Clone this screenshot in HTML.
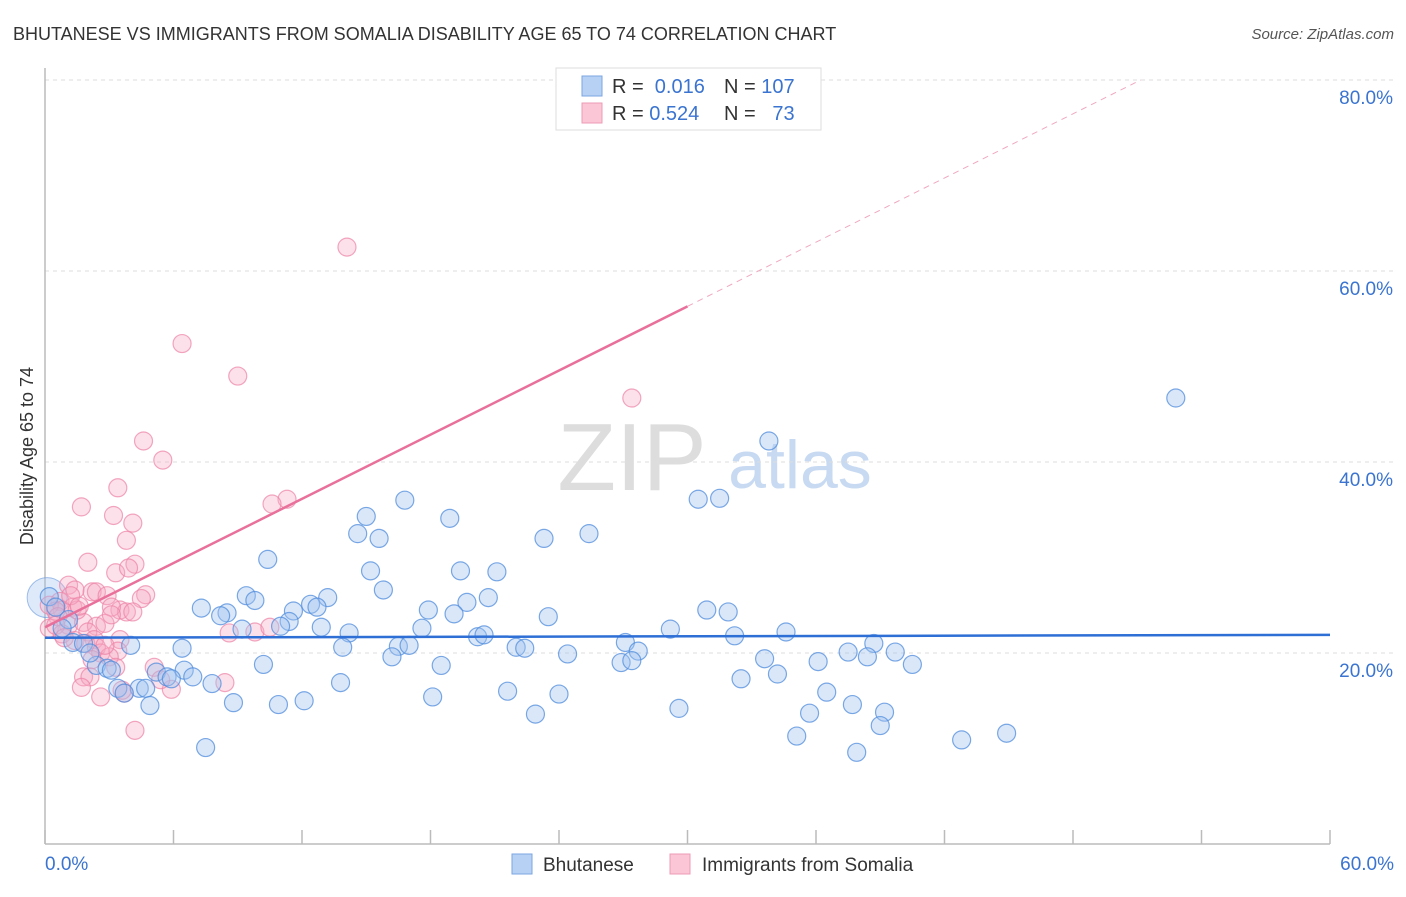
<!DOCTYPE html>
<html><head><meta charset="utf-8">
<style>
body{margin:0;background:#fff;font-family:"Liberation Sans",sans-serif;}
svg text{font-family:"Liberation Sans",sans-serif;}
</style></head>
<body>
<svg id="chart" width="1406" height="892" viewBox="0 0 1406 892" xmlns="http://www.w3.org/2000/svg">
<text x="13" y="40" font-size="18" fill="#333">BHUTANESE VS IMMIGRANTS FROM SOMALIA DISABILITY AGE 65 TO 74 CORRELATION CHART</text>
<text x="1394" y="39" font-size="15" fill="#555" text-anchor="end" font-style="italic">Source: ZipAtlas.com</text>
<g>
<text x="632" y="490" font-size="96" fill="#ddd" text-anchor="middle" font-family="Liberation Serif, serif">ZIP</text>
<text x="800" y="488" font-size="68" fill="#c8daf2" text-anchor="middle">atlas</text>
</g>
<g id="grid"></g>
<g id="axes"></g>
<g id="points"></g>
<g id="trends"></g>
<text transform="translate(33,456) rotate(-90)" font-size="18" fill="#333" text-anchor="middle">Disability Age 65 to 74</text>
<g>
<rect x="556" y="68" width="265" height="62" fill="#fff" stroke="#ddd"/>
<rect x="582" y="76" width="20" height="20" fill="#b7d1f5" stroke="#7ba6e0"/>
<rect x="582" y="103" width="20" height="20" fill="#fbc6d5" stroke="#ee9bb5"/>
<text x="612" y="93" font-size="20" fill="#333">R = <tspan fill="#3a74d0">&#160;0.016</tspan></text>
<text x="724" y="93" font-size="20" fill="#333">N = <tspan fill="#3a74d0">107</tspan></text>
<text x="612" y="120" font-size="20" fill="#333">R = <tspan fill="#3a74d0">0.524</tspan></text>
<text x="724" y="120" font-size="20" fill="#333">N = <tspan fill="#3a74d0">&#160;&#160;73</tspan></text>
</g>
<g>
<rect x="512" y="854" width="20" height="20" fill="#b7d1f5" stroke="#7ba6e0"/>
<text x="543" y="871" font-size="19" fill="#333">Bhutanese</text>
<rect x="670" y="854" width="20" height="20" fill="#fbc6d5" stroke="#ee9bb5"/>
<text x="702" y="871" font-size="19" fill="#333">Immigrants from Somalia</text>
</g>
</svg>
<script>
const blueX=[52.8,33.8,16.8,30.5,31.5,18.9,15.0,14.6,15.6,23.3,25.4,10.4,15.2,19.4,21.1,15.8,9.4,9.8,13.2,7.3,8.5,8.2,12.4,12.7,11.6,11.4,19.7,20.7,17.9,19.1,30.9,31.9,23.5,9.2,11.0,12.9,17.6,14.2,29.2,34.6,32.2,20.2,20.5,27.1,38.7,4.0,6.4,13.9,16.5,17.0,22.0,22.4,24.4,27.7,37.5,39.7,36.1,38.4,40.5,33.6,10.2,16.2,18.5,26.9,27.4,34.2,32.5,2.4,2.9,3.1,5.2,6.5,6.9,5.7,5.9,7.8,13.8,3.4,4.4,4.7,3.7,4.9,8.8,10.9,12.1,18.1,21.6,24.0,36.5,29.6,37.7,35.7,39.2,22.9,39.0,35.1,42.8,44.9,37.9,7.5,0.2,0.5,1.1,1.3,1.8,2.1,0.8];
const blueY=[46.7,42.2,36.0,36.1,36.2,34.1,34.3,32.5,32.0,32.0,32.5,29.8,28.6,28.6,28.5,26.6,26.0,25.5,25.8,24.7,24.2,23.9,25.1,24.8,24.4,23.3,25.3,25.8,24.5,24.1,24.5,24.3,23.8,22.5,22.8,22.7,22.6,22.1,22.5,22.2,21.8,21.7,21.9,21.1,21.0,20.8,20.5,20.6,20.7,20.8,20.6,20.5,19.9,20.2,20.1,20.1,19.1,19.6,18.8,19.4,18.8,19.6,18.7,19.0,19.2,17.8,17.3,18.7,18.4,18.2,18.0,18.2,17.5,17.5,17.3,16.8,16.9,16.3,16.3,16.3,15.8,14.5,14.8,14.6,15.0,15.4,16.0,15.7,15.9,14.2,14.6,13.7,13.8,13.6,12.4,11.3,10.9,11.6,9.6,10.1,25.9,24.8,23.5,21.1,21.0,20.0,22.6];
const pinkX=[14.1,6.4,9.0,27.4,4.6,5.5,11.3,10.6,1.7,3.4,3.2,4.1,3.8,2.0,4.2,3.3,3.9,1.1,1.4,2.2,2.4,2.9,4.7,4.5,3.5,3.8,4.1,3.1,0.7,0.8,1.3,0.2,0.5,0.6,1.1,1.8,2.4,2.0,2.8,2.3,3.1,0.2,0.8,1.4,1.9,2.4,3.5,9.8,10.5,2.6,3.4,3.0,5.1,1.8,2.1,3.3,3.7,2.6,5.9,8.4,1.7,4.2,3.6,1.5,0.5,0.9,1.2,1.6,2.8,5.4,2.2,8.6];
const pinkY=[62.5,52.4,49.0,46.7,42.2,40.2,36.1,35.6,35.3,37.3,34.4,33.6,31.8,29.5,29.3,28.4,28.9,27.1,26.6,26.4,26.4,26.0,26.1,25.7,24.5,24.3,24.3,24.8,25.4,24.5,24.8,25.0,24.4,23.8,22.9,23.2,22.8,22.2,23.1,21.4,24.0,22.6,22.0,21.3,21.0,20.6,21.4,22.2,22.7,20.0,20.2,19.6,18.5,17.5,17.5,18.5,15.8,15.4,16.2,16.9,16.4,11.9,16.1,24.5,22.9,21.6,26.0,24.9,20.8,17.2,19.3,22.1];
const xTicks=[0,6,12,18,24,30,36,42,48,54,60];
const yTicks=[20,40,60,80];
const yTickLabels=["20.0%","40.0%","60.0%","80.0%"];
const blueTrend=[21.6,21.9];
const pinkTrend=[22.7,1.12];

const NS="http://www.w3.org/2000/svg";
const X=v=>45+v*1285/60;
const Y=v=>844-v*9.55;
function mk(tag,attrs,parent){const e=document.createElementNS(NS,tag);for(const k in attrs)e.setAttribute(k,attrs[k]);parent.appendChild(e);return e;}
const grid=document.getElementById('grid'),axes=document.getElementById('axes'),pts=document.getElementById('points'),tr=document.getElementById('trends');
yTicks.forEach((t,i)=>{
 const l=mk('line',{x1:45,x2:1393,y1:Y(t),y2:Y(t),stroke:'#ddd','stroke-dasharray':'4,4'},grid);
 
 
 const tx=mk('text',{x:1393,y:Y(t)+24,'font-size':19,fill:'#3a74d0','text-anchor':'end'},axes);
 tx.textContent=yTickLabels[i];
 
 
});
const ya=mk('line',{x1:45,x2:45,y1:68,y2:844,stroke:'#bbb','stroke-width':1.5},axes);


const xa=mk('line',{x1:45,x2:1330,y1:844,y2:844,stroke:'#bbb','stroke-width':1.5},axes);


xTicks.forEach(t=>{
 const l=mk('line',{x1:X(t),x2:X(t),y1:830,y2:844,stroke:'#bbb','stroke-width':1.5},axes);
 
 
});
[[0,'0.0%','start',45],[60,'60.0%','end',1394]].forEach(a=>{
 const tx=mk('text',{x:a[3],y:870,'font-size':19,fill:'#3a74d0','text-anchor':a[2]},axes);
 tx.textContent=a[1];
 
 
});
const big=mk('circle',{cx:X(0.1),cy:Y(25.8),r:20,fill:'rgba(160,195,240,0.35)',stroke:'rgba(100,150,220,0.6)'},pts);


pinkX.forEach((v,i)=>{
 const c=mk('circle',{cx:X(v),cy:Y(pinkY[i]),r:9,fill:'rgba(246,170,195,0.35)',stroke:'rgba(236,130,165,0.7)','stroke-width':1.2},pts);
 
 
});
blueX.forEach((v,i)=>{
 const c=mk('circle',{cx:X(v),cy:Y(blueY[i]),r:9,fill:'rgba(160,195,240,0.4)',stroke:'rgba(80,140,220,0.75)','stroke-width':1.2},pts);
 
 
});
const bt=mk('line',{x1:X(0),y1:Y(blueTrend[0]),x2:X(60),y2:Y(blueTrend[1]),stroke:'#2e6fd6','stroke-width':2.5},tr);


const pf=x=>pinkTrend[0]+pinkTrend[1]*x;
const pt=mk('line',{x1:X(0),y1:Y(pf(0)),x2:X(30),y2:Y(pf(30)),stroke:'#e8709a','stroke-width':2.5},tr);


const xe=(80-pinkTrend[0])/pinkTrend[1];
const pd=mk('line',{x1:X(30),y1:Y(pf(30)),x2:X(xe),y2:Y(80),stroke:'#f0a8c0','stroke-width':1,'stroke-dasharray':'6,5'},tr);


</script>
</body></html>
